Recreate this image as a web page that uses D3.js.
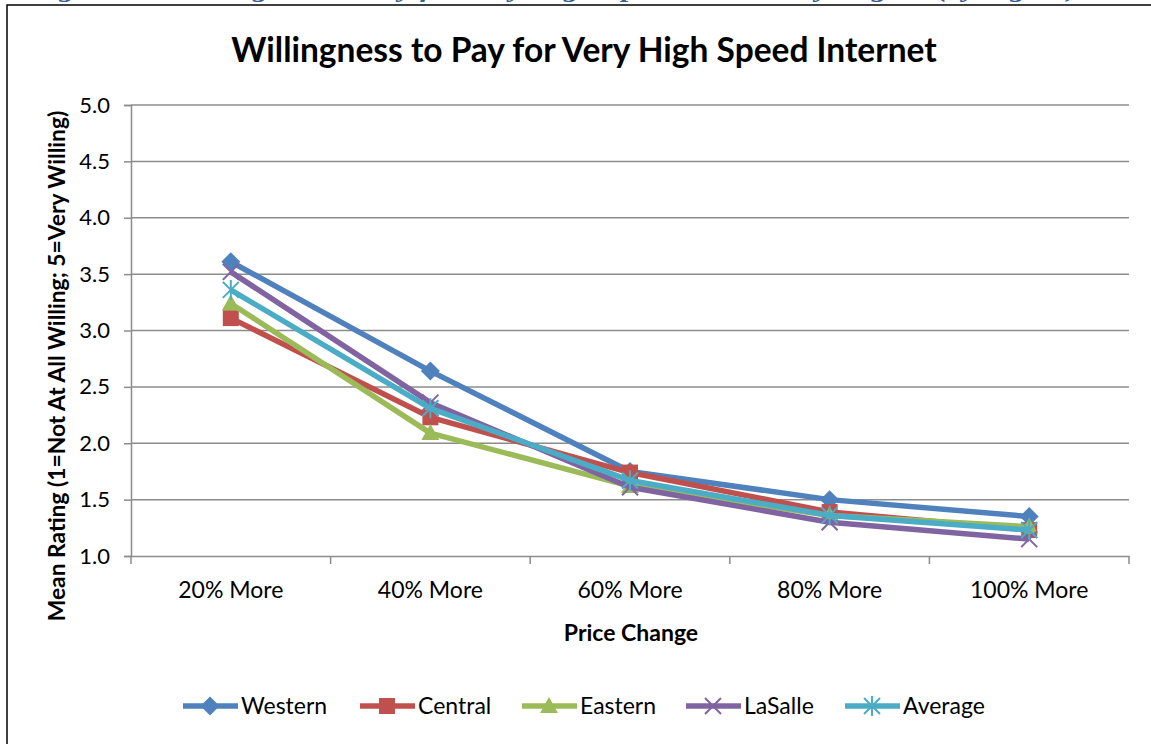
<!DOCTYPE html>
<html>
<head>
<meta charset="utf-8">
<script src="https://cdn.jsdelivr.net/npm/d3@7"></script>
<style>
  body { margin: 0; background: #fff; }
  svg { display: block; font-family: Lato, "Open Sans", sans-serif; }
</style>
</head>
<body>
<div class="chart-container"></div>
<script>
var categories = ["20% More", "40% More", "60% More", "80% More", "100% More"];
var seriesNames = ["Western", "Central", "Eastern", "LaSalle", "Average"];
var western = [3.61, 2.64, 1.75, 1.50, 1.35];
var central = [3.11, 2.23, 1.74, 1.39, 1.23];
var eastern = [3.24, 2.09, 1.62, 1.36, 1.26];
var lasalle = [3.52, 2.36, 1.61, 1.30, 1.15];
var average = [3.36, 2.31, 1.67, 1.36, 1.23];
var yTicks = [1.0, 1.5, 2.0, 2.5, 3.0, 3.5, 4.0, 4.5, 5.0];

draw();

function draw() {
    var drawWidth = 1151, drawHeight = 744;
    // plot area inside the chart frame
    var margin = { top: 105, right: 22, bottom: 188, left: 131 };
    var width = drawWidth - margin.left - margin.right;
    var height = drawHeight - margin.top - margin.bottom;

    var svg = d3.select(".chart-container").append("svg")
        .attr("width", drawWidth)
        .attr("height", drawHeight);

    // caption of the page, cut off by the top edge
    svg.append("text")
        .attr("x", 30).attr("y", -3.5)
        .attr("textLength", 1048).attr("lengthAdjust", "spacingAndGlyphs")
        .attr("fill", "#365f91")
        .style("font-family", "'Liberation Serif', serif")
        .style("font-weight", "bold").style("font-style", "italic")
        .style("font-size", "23px")
        .text("Figure 40: Willingness to Pay for Very High Speed Internet by Region (by region)");

    svg.append("rect")
        .attr("x", 7).attr("y", 5)
        .attr("width", drawWidth + 10).attr("height", drawHeight + 10)
        .attr("fill", "none").attr("stroke", "#000").attr("stroke-width", 1.5);

    svg.append("text")
        .attr("x", 584).attr("y", 62)
        .attr("text-anchor", "middle")
        .style("font-weight", "bold").style("font-size", "33.5px")
        .text("Willingness to Pay for Very High Speed Internet");

    var g = svg.append("g")
        .attr("transform", "translate(" + margin.left + "," + margin.top + ")");

    var x = d3.scaleBand().domain(categories).range([0, width]);
    var y = d3.scaleLinear().domain([1, 5]).range([height, 0]);

    // gridlines
    g.selectAll(".grid").data(yTicks.slice(1)).enter().append("line")
        .attr("x1", 0).attr("x2", width)
        .attr("y1", function (d) { return y(d); })
        .attr("y2", function (d) { return y(d); })
        .attr("stroke", "#8c8c8c").attr("stroke-width", 1.5);

    var yAxis = g.append("g")
        .call(d3.axisLeft(y).tickValues(yTicks).tickFormat(d3.format(".1f")).tickSize(7).tickPadding(14));
    yAxis.select(".domain").attr("stroke", "#8c8c8c").attr("stroke-width", 1.5);
    yAxis.selectAll(".tick line").attr("stroke", "#8c8c8c").attr("stroke-width", 1.5);
    yAxis.selectAll("text").style("font-size", "22px").style("font-family", "Lato, sans-serif").attr("fill", "#000");

    var xAxis = g.append("g")
        .attr("transform", "translate(0," + height + ")")
        .call(d3.axisBottom(x).tickSize(0).tickPadding(26));
    xAxis.select(".domain").attr("stroke", "#8c8c8c").attr("stroke-width", 1.5);
    xAxis.selectAll("text").style("font-size", "23px").style("font-family", "Lato, sans-serif").attr("fill", "#000");
    // tick marks between categories
    var edges = categories.map(function (c) { return x(c); }).concat([width]);
    g.selectAll(".xtick").data(edges).enter().append("line")
        .attr("x1", function (d) { return d; }).attr("x2", function (d) { return d; })
        .attr("y1", height).attr("y2", height + 8)
        .attr("stroke", "#8c8c8c").attr("stroke-width", 1.5);

    svg.append("text")
        .attr("x", margin.left + width / 2 + 1).attr("y", 641)
        .attr("text-anchor", "middle")
        .style("font-weight", "bold").style("font-size", "23px")
        .text("Price Change");

    svg.append("text")
        .attr("transform", "translate(65,366) rotate(-90)")
        .attr("text-anchor", "middle")
        .style("font-weight", "bold").style("font-size", "22.8px")
        .text("Mean Rating (1=Not At All Willing; 5=Very Willing)");

    var series = [
        { name: "Western", values: western, color: "#4f81bd", marker: "diamond" },
        { name: "Central", values: central, color: "#c0504d", marker: "square" },
        { name: "Eastern", values: eastern, color: "#9bbb59", marker: "triangle" },
        { name: "LaSalle", values: lasalle, color: "#8064a2", marker: "x" },
        { name: "Average", values: average, color: "#4bacc6", marker: "star" }
    ];

    var cx = function (i) { return x(categories[i]) + x.bandwidth() / 2; };
    var line = d3.line()
        .x(function (d, i) { return cx(i); })
        .y(function (d) { return y(d); });

    var shapes = {
        diamond: "M0,-9.5L9.5,0L0,9.5L-9.5,0Z",
        square: "M-8,-8H8V8H-8Z",
        triangle: "M0,-9L9,7H-9Z",
        x: "M-8,-8L8,8M-8,8L8,-8",
        star: "M-8,-8L8,8M-8,8L8,-8M0,-10V10"
    };

    function addMarker(sel, type, color, px, py) {
        var filled = (type === "diamond" || type === "square" || type === "triangle");
        sel.append("path").attr("d", shapes[type])
            .attr("transform", "translate(" + px + "," + py + ")")
            .attr("fill", filled ? color : "none")
            .attr("stroke", filled ? "none" : color)
            .attr("stroke-width", 2);
    }

    series.forEach(function (s) {
        g.append("path").datum(s.values)
            .attr("d", line)
            .attr("fill", "none").attr("stroke", s.color)
            .attr("stroke-width", 5.5).attr("stroke-linejoin", "round");
        s.values.forEach(function (v, i) {
            addMarker(g, s.marker, s.color, cx(i), y(v));
        });
    });

    // legend
    var legendX = [183, 360, 522, 686, 845];
    var legend = svg.append("g");
    series.forEach(function (s, i) {
        var lx = legendX[i], ly = 706;
        legend.append("line")
            .attr("x1", lx).attr("x2", lx + 55).attr("y1", ly).attr("y2", ly)
            .attr("stroke", s.color).attr("stroke-width", 5.5);
        addMarker(legend, s.marker, s.color, lx + 27, ly);
        legend.append("text")
            .attr("x", lx + 58).attr("y", ly + 8)
            .style("font-size", "23px")
            .text(s.name);
    });
}
</script>
</body>
</html>
